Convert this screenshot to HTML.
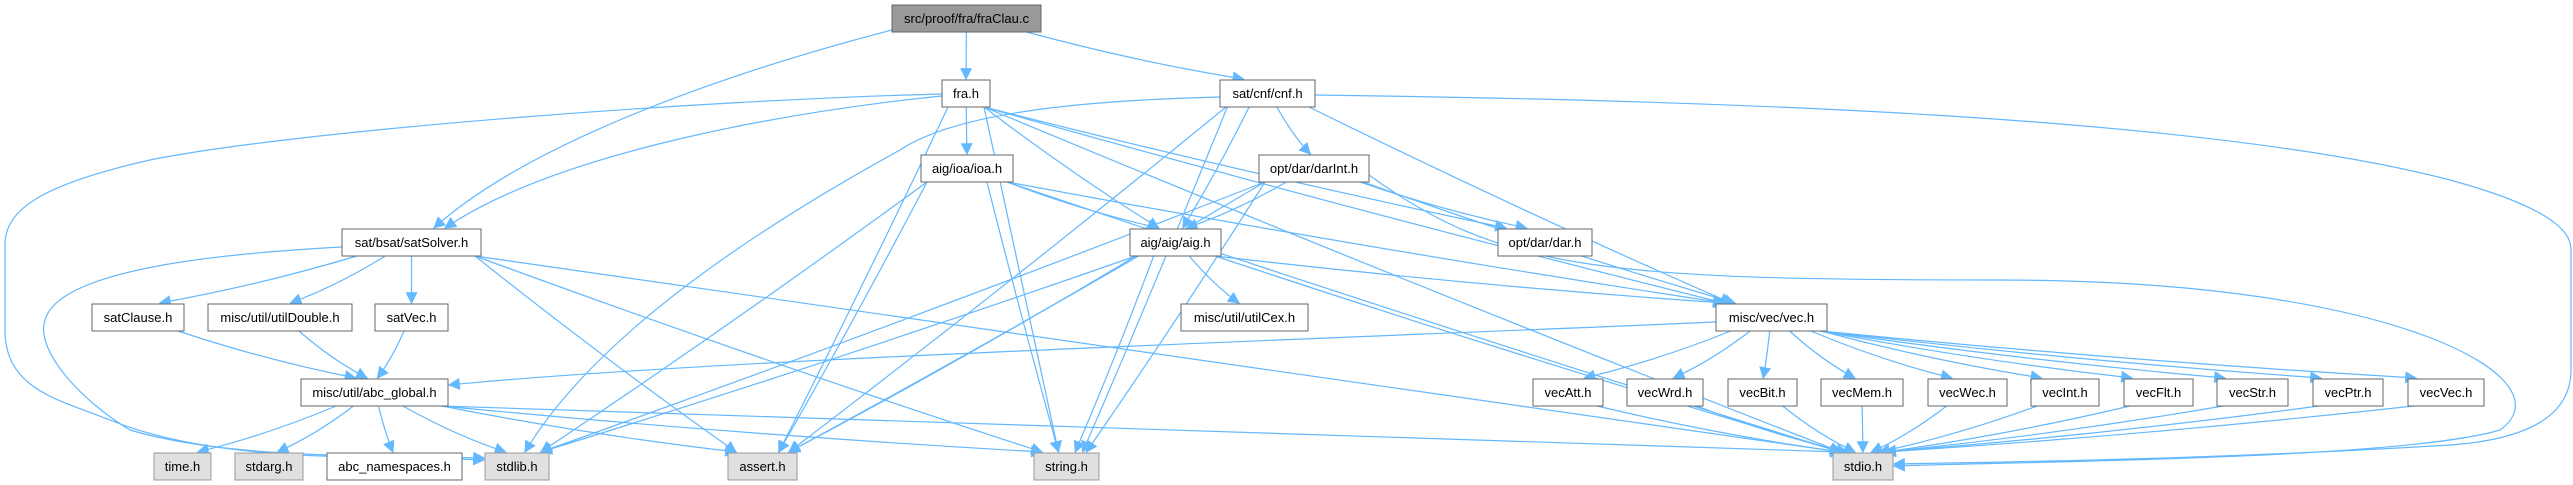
<!DOCTYPE html>
<html><head><meta charset="utf-8">
<style>
html,body{margin:0;padding:0;background:#fff;}
svg{display:block;}
text{font-family:"Liberation Sans",Arial,sans-serif;font-size:13px;fill:#000;}
</style></head>
<body>
<svg id="g" width="2573" height="485" viewBox="0 0 2573 485" xmlns="http://www.w3.org/2000/svg">
<defs>
<marker id="a" viewBox="0 0 10 10" refX="9" refY="5" markerWidth="14" markerHeight="12" markerUnits="userSpaceOnUse" orient="auto">
<path d="M0,0 L10,5 L0,10 z" fill="#63b8ff"/>
</marker>
</defs>
<g id="edges" fill="none" stroke="#63b8ff" stroke-width="1.2"></g>
<g id="nodes">
<rect x="892" y="5" width="149" height="27" fill="#999" stroke="#666"/><text x="966.5" y="23" text-anchor="middle">src/proof/fra/fraClau.c</text>
<rect x="942" y="80" width="48" height="27" fill="#fff" stroke="#666"/><text x="966" y="98" text-anchor="middle">fra.h</text>
<rect x="1220" y="80" width="95" height="27" fill="#fff" stroke="#666"/><text x="1267.5" y="98" text-anchor="middle">sat/cnf/cnf.h</text>
<rect x="921" y="155" width="92" height="27" fill="#fff" stroke="#666"/><text x="967" y="173" text-anchor="middle">aig/ioa/ioa.h</text>
<rect x="1259" y="155" width="110" height="27" fill="#fff" stroke="#666"/><text x="1314" y="173" text-anchor="middle">opt/dar/darInt.h</text>
<rect x="342" y="229" width="139" height="27" fill="#fff" stroke="#666"/><text x="411.5" y="247" text-anchor="middle">sat/bsat/satSolver.h</text>
<rect x="1130" y="229" width="91" height="27" fill="#fff" stroke="#666"/><text x="1175.5" y="247" text-anchor="middle">aig/aig/aig.h</text>
<rect x="1498" y="229" width="94" height="27" fill="#fff" stroke="#666"/><text x="1545" y="247" text-anchor="middle">opt/dar/dar.h</text>
<rect x="92" y="304" width="92" height="27" fill="#fff" stroke="#666"/><text x="138" y="322" text-anchor="middle">satClause.h</text>
<rect x="208" y="304" width="144" height="27" fill="#fff" stroke="#666"/><text x="280" y="322" text-anchor="middle">misc/util/utilDouble.h</text>
<rect x="375" y="304" width="73" height="27" fill="#fff" stroke="#666"/><text x="411.5" y="322" text-anchor="middle">satVec.h</text>
<rect x="1181" y="304" width="127" height="27" fill="#fff" stroke="#666"/><text x="1244.5" y="322" text-anchor="middle">misc/util/utilCex.h</text>
<rect x="1716" y="304" width="111" height="27" fill="#fff" stroke="#666"/><text x="1771.5" y="322" text-anchor="middle">misc/vec/vec.h</text>
<rect x="301" y="379" width="147" height="27" fill="#fff" stroke="#666"/><text x="374.5" y="397" text-anchor="middle">misc/util/abc_global.h</text>
<rect x="1533" y="379" width="70" height="27" fill="#fff" stroke="#666"/><text x="1568" y="397" text-anchor="middle">vecAtt.h</text>
<rect x="1627" y="379" width="76" height="27" fill="#fff" stroke="#666"/><text x="1665" y="397" text-anchor="middle">vecWrd.h</text>
<rect x="1728" y="379" width="69" height="27" fill="#fff" stroke="#666"/><text x="1762.5" y="397" text-anchor="middle">vecBit.h</text>
<rect x="1821" y="379" width="82" height="27" fill="#fff" stroke="#666"/><text x="1862" y="397" text-anchor="middle">vecMem.h</text>
<rect x="1928" y="379" width="79" height="27" fill="#fff" stroke="#666"/><text x="1967.5" y="397" text-anchor="middle">vecWec.h</text>
<rect x="2031" y="379" width="68" height="27" fill="#fff" stroke="#666"/><text x="2065" y="397" text-anchor="middle">vecInt.h</text>
<rect x="2124" y="379" width="69" height="27" fill="#fff" stroke="#666"/><text x="2158.5" y="397" text-anchor="middle">vecFlt.h</text>
<rect x="2217" y="379" width="71" height="27" fill="#fff" stroke="#666"/><text x="2252.5" y="397" text-anchor="middle">vecStr.h</text>
<rect x="2313" y="379" width="70" height="27" fill="#fff" stroke="#666"/><text x="2348" y="397" text-anchor="middle">vecPtr.h</text>
<rect x="2408" y="379" width="76" height="27" fill="#fff" stroke="#666"/><text x="2446" y="397" text-anchor="middle">vecVec.h</text>
<rect x="154" y="453" width="57" height="27" fill="#e0e0e0" stroke="#999"/><text x="182.5" y="471" text-anchor="middle">time.h</text>
<rect x="235" y="453" width="68" height="27" fill="#e0e0e0" stroke="#999"/><text x="269" y="471" text-anchor="middle">stdarg.h</text>
<rect x="327" y="453" width="135" height="27" fill="#fff" stroke="#666"/><text x="394.5" y="471" text-anchor="middle">abc_namespaces.h</text>
<rect x="485" y="453" width="64" height="27" fill="#e0e0e0" stroke="#999"/><text x="517" y="471" text-anchor="middle">stdlib.h</text>
<rect x="728" y="453" width="69" height="27" fill="#e0e0e0" stroke="#999"/><text x="762.5" y="471" text-anchor="middle">assert.h</text>
<rect x="1034" y="453" width="65" height="27" fill="#e0e0e0" stroke="#999"/><text x="1066.5" y="471" text-anchor="middle">string.h</text>
<rect x="1833" y="453" width="60" height="27" fill="#e0e0e0" stroke="#999"/><text x="1863" y="471" text-anchor="middle">stdio.h</text>
</g>
</svg>
<script>
var N={root:[892,5,149],fra:[942,80,48],cnf:[1220,80,95],ioa:[921,155,92],darInt:[1259,155,110],sat:[342,229,139],aig:[1130,229,91],dar:[1498,229,94],satClause:[92,304,92],utilDouble:[208,304,144],satVec:[375,304,73],utilCex:[1181,304,127],vec:[1716,304,111],abc:[301,379,147],vecAtt:[1533,379,70],vecWrd:[1627,379,76],vecBit:[1728,379,69],vecMem:[1821,379,82],vecWec:[1928,379,79],vecInt:[2031,379,68],vecFlt:[2124,379,69],vecStr:[2217,379,71],vecPtr:[2313,379,70],vecVec:[2408,379,76],time:[154,453,57],stdarg:[235,453,68],ns:[327,453,135],stdlib:[485,453,64],assert:[728,453,69],string:[1034,453,65],stdio:[1833,453,60]};
var E=[["root","fra"],["root","cnf"],
["fra","ioa"],["fra","aig"],["fra","assert"],["fra","string"],["fra","vec"],["fra","dar"],["fra","stdio"],
["cnf","assert"],["cnf","aig"],["cnf","darInt"],["cnf","vec"],["cnf","string"],
["ioa","aig"],["ioa","vec"],["ioa","stdlib"],["ioa","assert"],["ioa","string"],["ioa","stdio"],
["darInt","aig"],["darInt","dar"],["darInt","vec"],["darInt","stdlib"],["darInt","string"],["darInt","assert"],
["aig","vec"],["aig","utilCex"],["aig","stdlib"],["aig","assert"],["aig","string"],["aig","stdio"],
["sat","satClause"],["sat","utilDouble"],["sat","satVec"],["sat","assert"],["sat","string"],["sat","stdio"],
["satClause","abc"],["utilDouble","abc"],["satVec","abc"],
["abc","time"],["abc","stdarg"],["abc","ns"],["abc","stdlib"],["abc","assert"],["abc","string"],["abc","stdio"],
["vecAtt","stdio"],["vecWrd","stdio"],["vecBit","stdio"],["vecMem","stdio"],["vecWec","stdio"],["vecInt","stdio"],["vecFlt","stdio"],["vecStr","stdio"],["vecPtr","stdio"],["vecVec","stdio"]];
["vecAtt","vecWrd","vecBit","vecMem","vecWec","vecInt","vecFlt","vecStr","vecPtr","vecVec"].forEach(function(k){E.push(["vec",k]);});
var g=document.getElementById("edges"),s="";
function P(d){s+='<path d="'+d+'" marker-end="url(#a)"/>';}
E.forEach(function(e){var a=N[e[0]],b=N[e[1]];
 var sx=a[0]+a[2]/2,sy=a[1]+27,tx=b[0]+b[2]/2,ty=b[1]-1;
 var dx=tx-sx;
 sx+=Math.max(-a[2]/2+6,Math.min(a[2]/2-6,dx*0.2));
 tx-=Math.max(-b[2]/2+8,Math.min(b[2]/2-8,dx*0.08));
 var x1=sx+(tx-sx)/3,y1=sy+(ty-sy)/3,x2=sx+2*(tx-sx)/3,y2=sy+2*(ty-sy)/3;
 P("M"+sx+","+sy+" C"+x1+","+(y1+4)+" "+x2+","+(y2+4)+" "+tx+","+ty);});
/* special routes */
P("M892,30 C700,80 520,150 434,228");
P("M942,96 C800,110 560,150 445,228");
P("M942,94 C700,100 300,130 150,160 C40,185 5,210 5,245 L5,330 C5,390 60,400 110,420 C220,465 380,455 484,460");
P("M342,247 C250,252 60,265 45,320 C35,350 80,400 130,430 C230,460 380,455 484,458");
P("M1220,97 C1100,100 960,110 900,150 C700,260 580,360 525,452");
P("M1315,95 C1700,100 2200,115 2450,180 C2560,210 2571,235 2571,250 L2571,370 C2571,420 2520,440 2450,445 C2200,460 2000,462 1894,464");
P("M1716,322 C1300,340 700,360 449,385");
P("M1369,175 C1500,270 1600,280 2000,280 C2400,280 2570,380 2500,430 C2400,460 2000,462 1894,466");
g.innerHTML=s;
</script>
</body></html>
